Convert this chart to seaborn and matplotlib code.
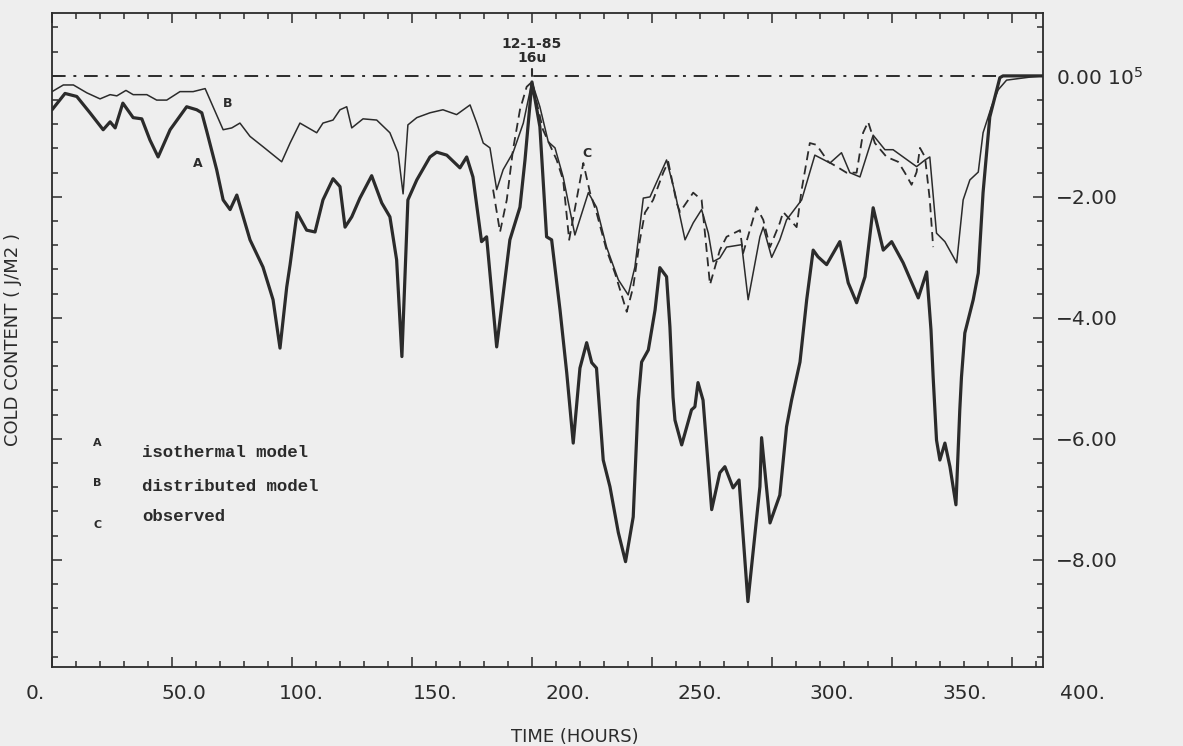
import matplotlib
matplotlib.use('Agg')
import matplotlib.pyplot as plt
from matplotlib.ticker import MultipleLocator, FixedLocator, FuncFormatter
from matplotlib.transforms import ScaledTranslation
import numpy as np
import pandas as pd
import seaborn as sns

# cold content (10^5 J/m2) against time (hours)
hours_a = [0, 5.4, 10.3, 15.8, 21.3, 24.2, 26.3, 29.5, 33.8, 37.4, 40.8, 44.2, 49.2, 56.1,
           60.3, 62.4, 64.5, 68.6, 71.3, 74.2, 77.0, 82.5, 87.9, 92.1, 95.0, 97.8, 99.2,
           102.1, 106.1, 109.6, 112.9, 117.1, 120.0, 122.1, 124.9, 128.3, 133.2, 137.4,
           140.8, 143.6, 145.8, 148.3, 152.0, 157.5, 160.3, 164.5, 170.0, 172.8, 175.4,
           179.0, 181.1, 185.3, 190.8, 195.0, 197.1, 200.0, 203.3, 206.1, 208.2, 211.7,
           214.5, 217.2, 220.0, 222.8, 224.9, 226.9, 229.7, 232.5, 236.0, 239.0, 242.2,
           244.3, 245.7, 248.5, 251.3, 253.3, 256.1, 257.5, 258.8, 259.6, 262.4, 266.5,
           267.9, 269.2, 271.3, 274.9, 278.3, 280.4, 283.8, 286.3, 290.0, 295.0, 295.7,
           299.2, 303.3, 306.1, 308.2, 311.7, 314.5, 317.2, 319.2, 322.8, 328.3, 331.8,
           335.3, 338.8, 342.2, 346.4, 349.9, 354.7, 361.0, 364.5, 366.3, 367.2, 368.6,
           370.0, 372.1, 374.2, 376.7, 378.3, 379.0, 380.4, 383.9, 386.0, 388.0, 390.8,
           395.0, 396.3, 413.0]
cold_a = [-0.56, -0.29, -0.34, -0.61, -0.89, -0.76, -0.86, -0.45, -0.69, -0.71, -1.06, -1.34,
          -0.89, -0.51, -0.56, -0.61, -0.92, -1.55, -2.05, -2.21, -1.97, -2.71, -3.16, -3.70,
          -4.50, -3.49, -3.12, -2.26, -2.55, -2.58, -2.05, -1.70, -1.83, -2.50, -2.33, -2.02,
          -1.65, -2.10, -2.33, -3.04, -4.64, -2.05, -1.72, -1.34, -1.26, -1.31, -1.52, -1.34,
          -1.67, -2.74, -2.66, -4.48, -2.71, -2.17, -1.39, -0.10, -0.84, -2.66, -2.71, -3.87,
          -4.91, -6.07, -4.83, -4.41, -4.74, -4.83, -6.35, -6.79, -7.55, -8.03, -7.29, -5.36,
          -4.73, -4.53, -3.87, -3.17, -3.32, -4.15, -5.31, -5.69, -6.10, -5.52, -5.47, -5.07,
          -5.36, -7.17, -6.56, -6.46, -6.81, -6.68, -8.69, -6.79, -5.98, -7.39, -6.93, -5.80,
          -5.36, -4.73, -3.70, -2.88, -2.99, -3.12, -2.74, -3.42, -3.75, -3.32, -2.18, -2.88,
          -2.74, -3.09, -3.67, -3.24, -4.20, -4.98, -6.02, -6.35, -6.07, -6.46, -7.09, -5.52,
          -4.98, -4.25, -3.70, -3.26, -1.93, -0.68, -0.03, 0.0, 0.0]

hours_b = [0, 4.7, 8.9, 14.5, 20.0, 24.2, 27.0, 30.8, 33.8, 39.5, 43.6, 47.8, 53.3, 58.8,
           63.8, 67.1, 71.3, 74.9, 78.3, 82.5, 87.9, 95.7, 99.2, 103.3, 110.3, 112.9, 117.1,
           120.0, 122.8, 124.9, 129.6, 135.3, 140.8, 144.2, 146.3, 148.3, 152.0, 157.5,
           162.9, 168.6, 174.2, 177.0, 179.7, 182.5, 185.3, 188.0, 192.2, 196.4, 200.0,
           203.3, 206.8, 209.6, 213.0, 217.9, 223.5, 226.9, 231.1, 236.0, 240.1, 242.9,
           246.4, 249.2, 256.1, 259.6, 263.8, 267.2, 270.7, 273.5, 275.5, 278.3, 281.1,
           287.4, 290.1, 295.0, 296.4, 299.9, 303.3, 306.1, 312.4, 317.9, 324.2, 329.0,
           332.5, 336.7, 342.2, 347.1, 350.5, 360.3, 363.8, 365.8, 368.6, 372.1, 377.0,
           379.7, 382.5, 386.0, 388.0, 391.5, 394.3, 397.8, 407.5, 413.0]
cold_b = [-0.26, -0.15, -0.15, -0.28, -0.38, -0.31, -0.33, -0.24, -0.31, -0.31, -0.40, -0.40,
          -0.26, -0.26, -0.21, -0.51, -0.89, -0.86, -0.78, -1.00, -1.17, -1.42, -1.11, -0.78,
          -0.94, -0.78, -0.73, -0.56, -0.51, -0.86, -0.71, -0.73, -0.94, -1.27, -1.95, -0.81,
          -0.69, -0.61, -0.56, -0.64, -0.48, -0.78, -1.11, -1.19, -1.88, -1.55, -1.26, -0.78,
          -0.10, -0.51, -1.09, -1.19, -1.67, -2.63, -1.93, -2.17, -2.83, -3.37, -3.62, -3.16,
          -2.02, -2.00, -1.39, -1.93, -2.71, -2.43, -2.21, -2.60, -3.07, -3.01, -2.83, -2.79,
          -3.70, -2.66, -2.50, -3.00, -2.71, -2.38, -2.05, -1.31, -1.44, -1.27, -1.60, -1.67,
          -0.98, -1.22, -1.22, -1.50, -1.39, -1.34, -2.60, -2.74, -3.09, -2.05, -1.72, -1.59,
          -0.94, -0.51, -0.23, -0.07, -0.02, 0.0]

hours_c = [183.8, 186.7, 189.5, 192.1, 195.0, 197.8, 200.0, 204.6, 210.3, 213.0, 215.5,
           221.4, 224.2, 226.9, 231.1, 234.6, 239.5, 242.2, 245.0, 247.1, 250.5, 254.7,
           256.8, 260.3, 261.7, 267.2, 270.7, 272.1, 274.2, 278.3, 281.1, 286.7, 288.0,
           293.6, 296.4, 299.2, 303.3, 304.7, 310.3, 312.4, 315.8, 318.6, 323.5, 327.0,
           331.1, 335.3, 338.0, 340.1, 342.9, 347.8, 352.6, 355.4, 358.2, 360.3, 361.7,
           363.8, 365.8, 367.2]
cold_c = [-1.88, -2.58, -2.05, -1.22, -0.56, -0.18, -0.10, -0.89, -1.39, -1.72, -2.71, -1.44,
          -1.93, -2.26, -2.88, -3.26, -3.90, -3.49, -2.71, -2.26, -2.05, -1.60, -1.42, -2.10,
          -2.25, -1.93, -2.05, -2.60, -3.45, -2.88, -2.66, -2.55, -2.93, -2.17, -2.38, -2.83,
          -2.43, -2.25, -2.50, -1.88, -1.11, -1.14, -1.42, -1.50, -1.60, -1.60, -0.94, -0.76,
          -1.11, -1.34, -1.42, -1.60, -1.80, -1.59, -1.19, -1.34, -2.05, -2.83]

x_ticks = [0, 50, 100, 150, 200, 250, 300, 350, 400]
x_tick_labels = ['0.', '50.0', '100.', '150.', '200.', '250.', '300.', '350.', '400.']
y_ticks = [0, -2, -4, -6, -8]

legend_keys = ['A', 'B', 'C']
legend_names = ['isothermal model', 'distributed model', 'observed']

INK = '#2b2b2b'
PAPER = '#eeeeee'


def main():
    sns.set_style('ticks')
    plt.rcParams['font.family'] = ['DejaVu Sans']

    fig = plt.figure(figsize=(11.83, 7.46), dpi=100, facecolor=PAPER)
    ax = fig.add_axes([0.044, 0.106, 0.8377, 0.8766])
    ax.set_facecolor(PAPER)

    df_a = pd.DataFrame({'hours': hours_a, 'cold': cold_a})
    df_b = pd.DataFrame({'hours': hours_b, 'cold': cold_b})
    df_c = pd.DataFrame({'hours': hours_c, 'cold': cold_c})

    # zero reference line, stops where the pack becomes isothermal
    ax.plot([0, 395], [0, 0], color=INK, lw=1.4, ls=(0, (7, 4, 1.5, 4)))

    sns.lineplot(data=df_b, x='hours', y='cold', ax=ax, color=INK, lw=1.1, sort=False)
    sns.lineplot(data=df_c, x='hours', y='cold', ax=ax, color=INK, lw=1.3, sort=False,
                 linestyle=(0, (5, 3)))
    sns.lineplot(data=df_a, x='hours', y='cold', ax=ax, color=INK, lw=2.3, sort=False)

    ax.set_xlim(0, 413)
    ax.set_ylim(-9.77, 1.04)

    # curve letters
    ax.text(60.8, -1.44, 'A', fontsize=9, fontweight='bold', color=INK, ha='center', va='center')
    ax.text(73.3, -0.46, 'B', fontsize=9, fontweight='bold', color=INK, ha='center', va='center')
    ax.text(222.9, -1.29, 'C', fontsize=9, fontweight='bold', color=INK, ha='center', va='center')

    # date marker at the peak
    ax.plot([200, 200], [0.0, 0.12], color=INK, lw=1.5)
    ax.text(200, 0.53, '12-1-85', fontsize=10, fontweight='bold', color=INK, ha='center', va='center')
    ax.text(200, 0.29, '16u', fontsize=10, fontweight='bold', color=INK, ha='center', va='center')

    # legend written as text, like the original
    key_y = [-6.07, -6.73, -7.42]
    name_y = [-6.23, -6.78, -7.29]
    for key, ky, name, ny in zip(legend_keys, key_y, legend_names, name_y):
        ax.text(19.0, ky, key, fontsize=8, fontweight='bold', color=INK, ha='center', va='center')
        ax.text(37.5, ny, name, fontsize=12.5, color=INK, ha='left', va='center',
                family=['Liberation Mono', 'DejaVu Sans Mono'], fontweight='bold')

    # axes styling
    ax.xaxis.set_major_locator(FixedLocator(x_ticks))
    ax.set_xticklabels(x_tick_labels)
    ax.xaxis.set_minor_locator(MultipleLocator(10))
    ax.yaxis.set_major_locator(FixedLocator(y_ticks))
    ax.yaxis.set_minor_locator(MultipleLocator(0.4))

    def ylab(v, pos):
        s = '{:.2f}'.format(v).replace('-', '\u2212')
        if v == 0:
            s = '0.00 10$^{5}$'
        return s
    ax.yaxis.set_major_formatter(FuncFormatter(ylab))

    ax.tick_params(axis='both', which='both', direction='in', colors=INK,
                   top=True, bottom=True, left=True, right=True, width=1.1)
    ax.tick_params(axis='y', labelleft=False, labelright=True, labelsize=14.5, pad=9)
    ax.tick_params(axis='x', labelsize=14.5, pad=12)
    ax.tick_params(which='major', length=7)
    ax.tick_params(which='minor', length=4)

    # the old plotter spread its hour labels a little wider than its ticks
    shifts = [-17, 12, 9, 23, 36, 48, 60, 73, 71]
    for lab, dx in zip(ax.get_xticklabels(), shifts):
        lab.set_transform(lab.get_transform() + ScaledTranslation(dx / 100.0, 0, fig.dpi_scale_trans))

    for side in ['top', 'bottom', 'left', 'right']:
        ax.spines[side].set_color(INK)
        ax.spines[side].set_linewidth(1.3)

    ax.set_xlabel('TIME (HOURS)', fontsize=13, color=INK)
    ax.set_ylabel('COLD CONTENT ( J/M2 )', fontsize=13, color=INK)
    ax.xaxis.set_label_coords(0.528, -0.093)
    ax.yaxis.set_label_coords(-0.03, 0.5)

    fig.savefig('out.png', dpi=100, facecolor=PAPER)


if __name__ == '__main__':
    main()
